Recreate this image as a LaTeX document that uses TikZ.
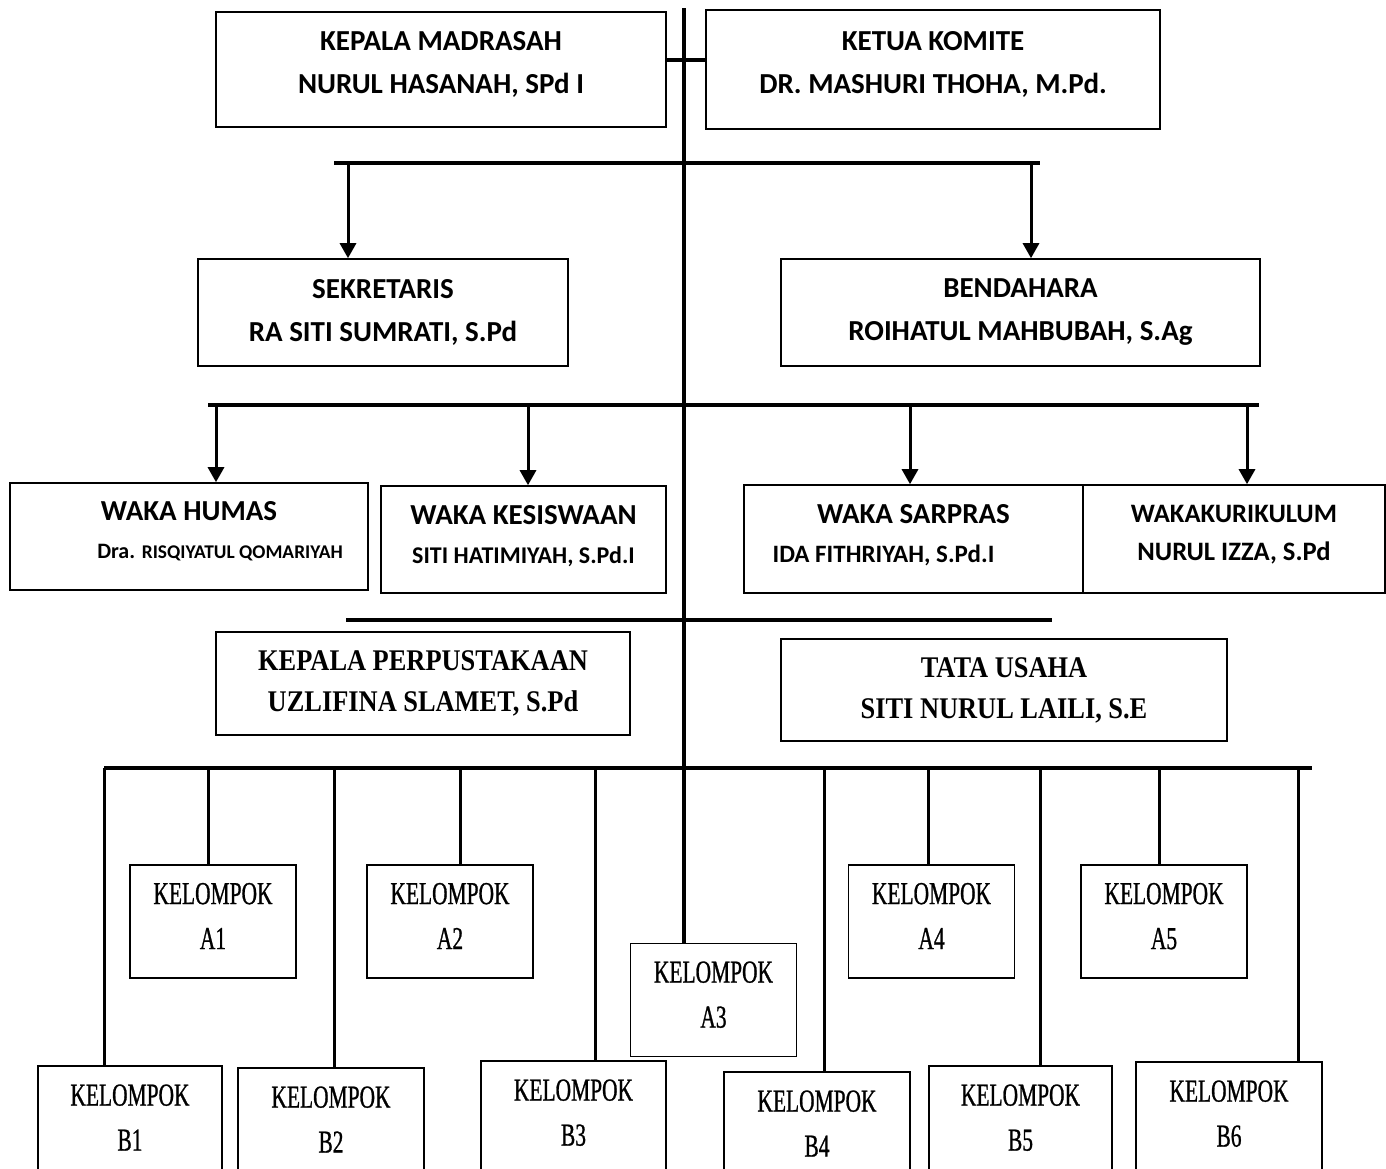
\documentclass[tikz,border=0pt]{standalone}
\usepackage{fontspec}
\usetikzlibrary{arrows.meta}
\newfontfamily\calfont{Carlito}
\newfontfamily\cambfont{Liberation Serif}[FakeStretch=0.88]
\newfontfamily\kelfont{Liberation Serif}[FakeStretch=0.67,FakeBold=0.8]
\tikzset{
  box/.style={draw, line width=0.8pt, inner sep=0pt, align=center, font=\calfont\bfseries\fontsize{14.5}{21.5}\selectfont},
  wbox/.style={box, text depth=5.5pt, font=\calfont\bfseries\fontsize{14.5}{19.5}\selectfont},
  cbox/.style={box, font=\cambfont\bfseries\fontsize{15}{20.5}\selectfont},
  kbox/.style={draw, line width=0.8pt, inner sep=0pt, align=center, text depth=5.5pt, minimum width=83pt, minimum height=56.5pt, font=\kelfont\fontsize{16}{22.5}\selectfont},
  bar/.style={line width=2pt},
  drop/.style={line width=1.5pt},
  arr/.style={line width=1.5pt, -{Triangle[width=8pt,length=7.5pt]}}
}
\begin{document}
\begin{tikzpicture}[x=0.5pt,y=-0.5pt]
\useasboundingbox (0,0) rectangle (1386,1168);
\clip (0,0) rectangle (1386,1168);

\node[box, text depth=7pt, minimum width=225pt, minimum height=57.5pt] (kepala) at (441,69.5) {KEPALA MADRASAH\\NURUL HASANAH, SPd I};
\node[box, text depth=7pt, minimum width=227pt, minimum height=59.5pt] (komite) at (933,69.5) {KETUA KOMITE\\DR. MASHURI THOHA, M.Pd.};

\node[box, minimum width=185pt, minimum height=53.5pt] (sek) at (383,312.5) {SEKRETARIS\\RA SITI SUMRATI, S.Pd};
\node[box, minimum width=239.5pt, minimum height=53.5pt] (bend) at (1020.5,312.5) {BENDAHARA\\ROIHATUL MAHBUBAH, S.Ag};

\node[wbox, text depth=6.5pt, minimum width=179pt, minimum height=53.5pt, font=\calfont\bfseries\fontsize{14.5}{19}\selectfont] (humas) at (189,536.5) {WAKA HUMAS\\\hspace*{31pt}{\fontsize{11}{19}\selectfont Dra. }{\fontsize{9.7}{19}\selectfont RISQIYATUL QOMARIYAH}};
\node[wbox, minimum width=142.5pt, minimum height=53.5pt] (siswa) at (523.5,539.5) {WAKA KESISWAAN\\{\fontsize{12}{19.5}\selectfont SITI HATIMIYAH, S.Pd.I}};
\node[wbox, minimum width=169.5pt, minimum height=54pt] (sarpras) at (913.5,539) {WAKA SARPRAS\\{\fontsize{12.5}{19.5}\selectfont IDA FITHRIYAH, S.Pd.I}\hspace*{30pt}};
\node[wbox, text depth=6.5pt, minimum width=151pt, minimum height=54pt, font=\calfont\bfseries\fontsize{13.3}{19}\selectfont] (kurik) at (1234,539) {WAKAKURIKULUM\\NURUL IZZA, S.Pd};

\node[cbox, minimum width=207pt, minimum height=51.5pt] (perpus) at (423,683.5) {KEPALA PERPUSTAKAAN\\UZLIFINA SLAMET, S.Pd};
\node[cbox, minimum width=223pt, minimum height=51pt] (tu) at (1004,690) {TATA USAHA\\SITI NURUL LAILI, S.E};

\node[kbox] (a1) at (213,921.5) {KELOMPOK\\A1};
\node[kbox] (a2) at (450,921.5) {KELOMPOK\\A2};
\node[kbox] (a3) at (713.5,1000) {KELOMPOK\\A3};
\node[kbox] (a4) at (931.5,921.5) {KELOMPOK\\A4};
\node[kbox] (a5) at (1164,921.5) {KELOMPOK\\A5};

\node[kbox, minimum width=92pt, minimum height=57pt] (b1) at (130,1123) {KELOMPOK\\B1};
\node[kbox, minimum width=93pt, minimum height=57pt] (b2) at (331,1125) {KELOMPOK\\B2};
\node[kbox, minimum width=92.5pt, minimum height=57pt] (b3) at (573.5,1118) {KELOMPOK\\B3};
\node[kbox, minimum width=93pt, minimum height=57pt] (b4) at (817,1129) {KELOMPOK\\B4};
\node[kbox, minimum width=91.5pt, minimum height=57pt] (b5) at (1020.5,1123) {KELOMPOK\\B5};
\node[kbox, minimum width=93pt, minimum height=57pt] (b6) at (1229,1119) {KELOMPOK\\B6};

\coordinate (top) at (684,8);
\coordinate (tick) at (684,60);
\draw[bar] (top) -- (top |- a3.north);
\draw[bar] (kepala.east |- tick) -- (komite.west |- tick);

\draw[bar] (334,163) -- (1040,163);
\coordinate (s1) at (348,163);
\coordinate (s2) at (1031,163);
\draw[arr] (s1) -- (s1 |- sek.north);
\draw[arr] (s2) -- (s2 |- bend.north);

\draw[bar] (208,405) -- (1259,405);
\coordinate (w1) at (216,405);
\coordinate (w2) at (528,405);
\coordinate (w3) at (910,405);
\coordinate (w4) at (1247,405);
\draw[arr] (w1) -- (w1 |- humas.north);
\draw[arr] (w2) -- (w2 |- siswa.north);
\draw[arr] (w3) -- (w3 |- sarpras.north);
\draw[arr] (w4) -- (w4 |- kurik.north);

\draw[bar] (346,620) -- (1052,620);

\draw[bar] (104,768) -- (1312,768);
\foreach \x/\n in {104/b1, 208/a1, 334/b2, 460/a2, 595/b3, 824/b4, 928/a4, 1040/b5, 1159/a5, 1298/b6}{
  \coordinate (t\n) at (\x,768);
  \draw[drop] (t\n) -- (t\n |- \n.north);
}
\end{tikzpicture}
\end{document}
